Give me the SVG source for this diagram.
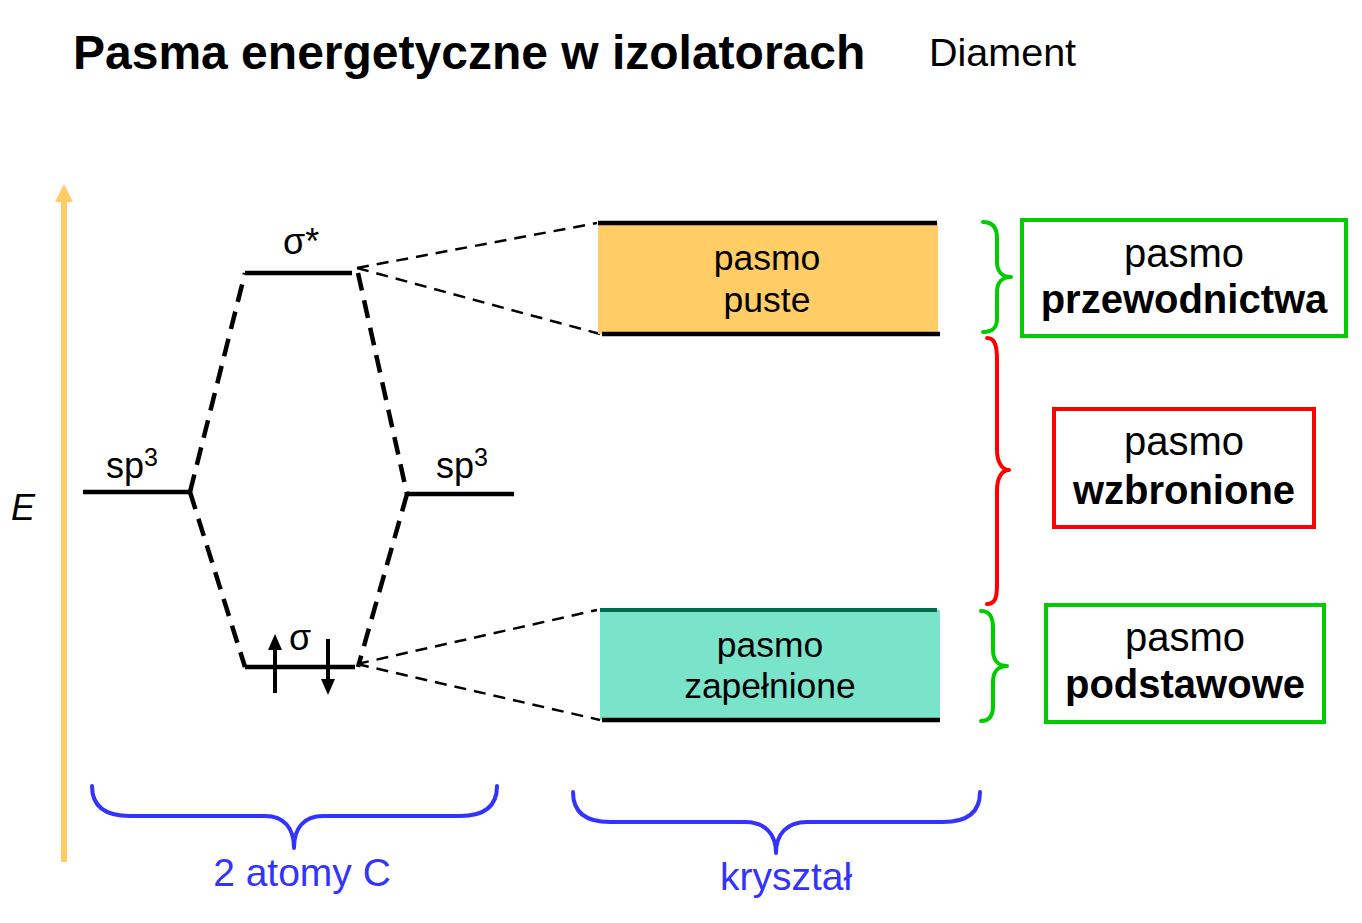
<svg xmlns="http://www.w3.org/2000/svg" width="1362" height="923" viewBox="0 0 1362 923">
<defs>
<style>
text{font-family:"Liberation Sans",Arial,sans-serif;fill:#000}
.lvl{stroke:#000;stroke-width:4.5;fill:none}
.thick-dash{stroke:#000;stroke-width:4.5;stroke-dasharray:18,10;fill:none}
.thin-dash{stroke:#000;stroke-width:2.5;stroke-dasharray:12,8;fill:none}
.brace{fill:none;stroke-width:4;stroke-linecap:round;stroke-linejoin:round}
.blue{stroke:#3333FF}
.green{stroke:#00CC00}
.red{stroke:#FF0000}
.band{font-size:35.5px;text-anchor:middle}
.box{font-size:40px;text-anchor:middle}
.bl{fill:#3333FF;font-size:39px;text-anchor:middle}
</style>
</defs>
<rect width="1362" height="923" fill="#fff"/>
<g id="title">
<text x="73" y="69" font-size="48" font-weight="bold">Pasma energetyczne w izolatorach</text>
<text x="929" y="66" font-size="39.5">Diament</text>
</g>
<g id="energy-axis">
<line x1="64" y1="862" x2="64" y2="198" stroke="#FFCC66" stroke-width="6"/>
<polygon points="55,202 64,184 73,202" fill="#FFCC66"/>
<text x="11" y="520" font-size="36" font-style="italic">E</text>
</g>
<g id="sp3-left">
<line class="lvl" x1="83" y1="492" x2="190" y2="492"/>
<text x="106" y="478" font-size="36">sp<tspan font-size="25" dy="-12">3</tspan></text>
</g>
<g id="sp3-right">
<line class="lvl" x1="407" y1="494" x2="514" y2="494"/>
<text x="436" y="478" font-size="36">sp<tspan font-size="25" dy="-12">3</tspan></text>
</g>
<g id="sigma-star">
<line class="lvl" x1="245" y1="273" x2="352" y2="273"/>
<text x="283" y="254" font-size="36">σ*</text>
</g>
<g id="sigma">
<line class="lvl" x1="245" y1="667" x2="355" y2="667"/>
<text x="289" y="650" font-size="36">σ</text>
<line x1="275" y1="693" x2="275" y2="648" stroke="#000" stroke-width="4"/>
<polygon points="268,650 275,634 282,650" fill="#000"/>
<line x1="328" y1="639" x2="328" y2="681" stroke="#000" stroke-width="4"/>
<polygon points="321,679 328,695 335,679" fill="#000"/>
</g>
<g id="connectors">
<line class="thick-dash" x1="190" y1="492" x2="245" y2="273"/>
<line class="thick-dash" x1="190" y1="492" x2="245" y2="667"/>
<line class="thick-dash" x1="358" y1="273" x2="407" y2="494"/>
<line class="thick-dash" x1="407" y1="494" x2="358" y2="667"/>
<line class="thin-dash" x1="357" y1="268" x2="597" y2="223"/>
<line class="thin-dash" x1="357" y1="268" x2="600" y2="334"/>
<line class="thin-dash" x1="357" y1="664" x2="597" y2="610"/>
<line class="thin-dash" x1="357" y1="664" x2="600" y2="720"/>
</g>
<g id="band-empty">
<rect x="598" y="223" width="340" height="111" fill="#FFCC66"/>
<line class="lvl" x1="598" y1="223" x2="937" y2="223"/>
<line class="lvl" x1="602" y1="334" x2="940" y2="334"/>
<text class="band" x="767" y="270">pasmo</text>
<text class="band" x="767" y="312">puste</text>
</g>
<g id="band-filled">
<rect x="600" y="610" width="340" height="110" fill="#7AE4CB"/>
<line x1="600" y1="610" x2="937" y2="610" stroke="#006B4B" stroke-width="4"/>
<line class="lvl" x1="602" y1="720" x2="940" y2="720"/>
<text class="band" x="770" y="657">pasmo</text>
<text class="band" x="770" y="698">zapełnione</text>
</g>
<g id="brace-conduction">
<path class="brace green" d="M983,222 C993,222 997,228 997,238 L997,262 C997,272 1003,277 1011,277 C1003,277 997,282 997,292 L997,318 C997,328 993,332 983,332"/>
</g>
<g id="brace-gap">
<path class="brace red" d="M987,338 C995,338 997,346 997,360 L997,450 C997,462 1002,470 1009,470 C1002,470 997,478 997,490 L997,585 C997,598 995,604 987,604"/>
</g>
<g id="brace-valence">
<path class="brace green" d="M981,611 C989,611 993,616 993,628 L993,650 C993,660 998,666 1007,666 C998,666 993,672 993,682 L993,706 C993,716 989,721 981,721"/>
</g>
<g id="box-conduction">
<rect x="1022" y="220" width="324" height="116" fill="none" stroke="#00CC00" stroke-width="4"/>
<text class="box" x="1184" y="267">pasmo</text>
<text class="box" x="1184" y="313" font-weight="bold">przewodnictwa</text>
</g>
<g id="box-gap">
<rect x="1054" y="409" width="260" height="118" fill="none" stroke="#FF0000" stroke-width="4"/>
<text class="box" x="1184" y="455">pasmo</text>
<text class="box" x="1184" y="504" font-weight="bold">wzbronione</text>
</g>
<g id="box-valence">
<rect x="1046" y="605" width="278" height="117" fill="none" stroke="#00CC00" stroke-width="4"/>
<text class="box" x="1185" y="651">pasmo</text>
<text class="box" x="1185" y="698" font-weight="bold">podstawowe</text>
</g>
<g id="brace-atoms">
<path class="brace blue" d="M92,786 C92,806 105,816 130,816 L265,816 C284,816 294,828 294,848 C294,828 304,816 323,816 L460,816 C485,816 497,806 497,786"/>
<text class="bl" x="302" y="886">2 atomy C</text>
</g>
<g id="brace-crystal">
<path class="brace blue" d="M573,792 C573,812 585,822 610,822 L745,822 C765,822 776,834 776,853 C776,834 787,822 807,822 L943,822 C968,822 980,812 980,792"/>
<text class="bl" x="786" y="890">kryształ</text>
</g>
</svg>
